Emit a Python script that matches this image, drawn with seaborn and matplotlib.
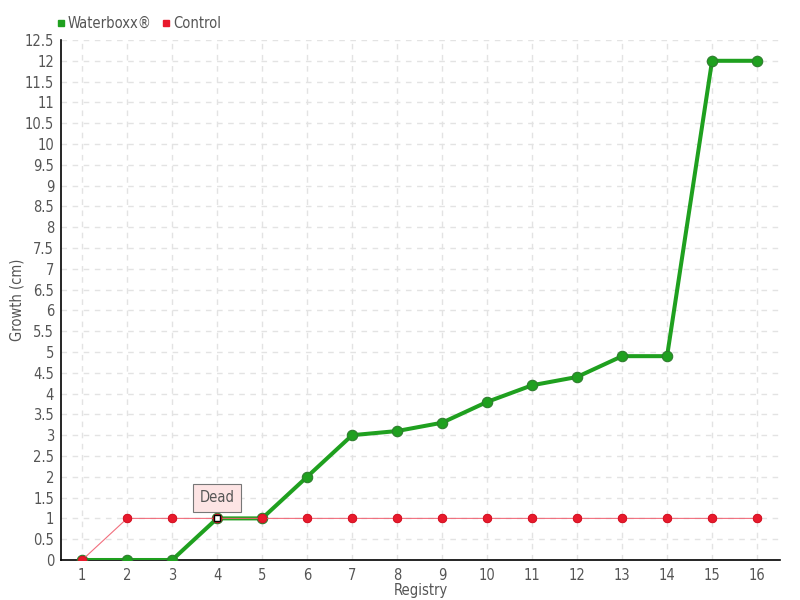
import matplotlib
matplotlib.use("Agg")
import matplotlib.pyplot as plt
import seaborn as sns
import pandas as pd
import numpy as np
from matplotlib.lines import Line2D

registry = list(range(1, 17))
waterboxx = [0, 0, 0, 1, 1, 2, 3, 3.1, 3.3, 3.8, 4.2, 4.4, 4.9, 4.9, 12, 12]
control = [0, 1, 1, 1, 1, 1, 1, 1, 1, 1, 1, 1, 1, 1, 1, 1]
dead_x, dead_y, dead_label = 4, 1, "Dead"

sns.set_theme(style="white")
plt.rcParams['font.family'] = ['DejaVu Sans']
plt.rcParams['font.stretch'] = 'condensed'
txt = "#555555"

fig = plt.figure(figsize=(8, 6), dpi=100)
ax = fig.add_axes([61/800, 40/600, 719/800, 520/600])

df_w = pd.DataFrame({"Registry": registry, "Growth": waterboxx})
df_c = pd.DataFrame({"Registry": registry, "Growth": control})

green = "#1fa01f"
red = "#e8192c"

sns.lineplot(data=df_w, x="Registry", y="Growth", ax=ax, color=green, lw=2.9,
             marker="o", markersize=7.5, markeredgecolor="#2e7d2e", markeredgewidth=0.8,
             zorder=3)
sns.lineplot(data=df_c, x="Registry", y="Growth", ax=ax, color="#f06070", lw=0.8,
             marker="o", markersize=6, markerfacecolor=red, markeredgecolor=red,
             zorder=4, alpha=0.9)
ax.plot(registry, control, ls="none", marker="o", ms=6, mfc=red, mec="#d01525", mew=0.6, zorder=5)

ax.plot([dead_x], [dead_y], ls="none", marker="s", ms=4, mfc="white", mec="black", mew=1, zorder=6)
ax.annotate(dead_label, xy=(dead_x, dead_y), xytext=(dead_x, dead_y + 0.5),
            ha="center", va="center", fontsize=10.5, color=txt,
            bbox=dict(boxstyle="square,pad=0.45", fc="#fde4e4", ec="#777777", lw=0.8),
            zorder=7)

ax.set_xlim(0.53, 16.51)
ax.set_ylim(0, 12.5)
ax.set_xticks(registry)
ax.set_yticks(np.arange(0, 12.51, 0.5))
ax.set_yticklabels([("%g" % v) for v in np.arange(0, 12.51, 0.5)])
ax.grid(True, ls=(0, (4, 4)), color="#e3e3e3", lw=1)
for s in ["top", "right"]:
    ax.spines[s].set_visible(False)
for s in ["left", "bottom"]:
    ax.spines[s].set_color("black")
    ax.spines[s].set_linewidth(1.2)
ax.tick_params(axis="both", colors="black", labelcolor=txt, labelsize=10.5, length=5, width=1,
               direction="out")
ax.tick_params(axis="y", direction="inout", length=6, pad=2)
ax.tick_params(axis="x", pad=1)
ax.set_xlabel("Registry", color=txt, fontsize=10.5, labelpad=0)
ax.set_ylabel("Growth (cm)", color=txt, fontsize=10.5, labelpad=0)

handles = [Line2D([], [], ls="none", marker="s", ms=5, color=green),
           Line2D([], [], ls="none", marker="s", ms=5, color=red)]
fig.legend(handles, ["Waterboxx®", "Control"], loc="upper left", bbox_to_anchor=(0.052, 0.995),
           ncol=2, frameon=False, fontsize=10.5, handletextpad=0.1, columnspacing=0.6,
           handlelength=0.8, labelcolor=txt)

fig.savefig("out.png", dpi=100)
